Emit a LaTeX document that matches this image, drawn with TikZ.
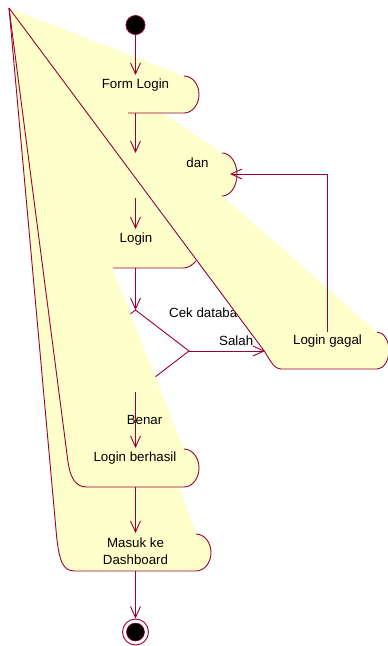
\documentclass[tikz,border=0pt]{standalone}
\usepackage{fontspec}
\setmainfont{Liberation Sans}
\usetikzlibrary{arrows.meta}
\definecolor{rosered}{RGB}{153,0,51}
\definecolor{roseyellow}{RGB}{255,255,204}

\begin{document}
\begin{tikzpicture}[x=1pt,y=-1pt,
  actfill/.style={fill=roseyellow,draw=none},
  outline/.style={draw=rosered,line width=0.9pt},
  flow/.style={draw=rosered,line width=0.9pt,-{Straight Barb[length=11pt,width=10pt]}},
  lbl/.style={font=\fontsize{13.3}{16}\selectfont,inner sep=0pt,anchor=base},
  lblw/.style={lbl,anchor=base west},
  startdot/.style={circle,fill=black,draw=rosered,line width=0.8pt,minimum size=19pt,inner sep=0pt},
  enddot/.style={circle,draw=rosered,line width=0.9pt,minimum size=26pt,inner sep=0pt},
]
\useasboundingbox (0,0) rectangle (388,646);
\coordinate (apex) at (9,8);

% guard text, partly hidden under the "Login gagal" activity
\node[lblw] (cek) at (169,317.5) {Cek database};

% activity fills (their upper left corners all collapse into the apex)
\path[actfill] (apex) -- (184,76) .. controls (192.3,76) and (199,84.3) .. (199,94.5)
  .. controls (199,104.7) and (192.3,113) .. (184,113) -- (128,113) -- (120,125) -- cycle;
\path[actfill] (apex) -- (222,153) .. controls (230.3,153) and (237,162.6) .. (237,174.5)
  .. controls (237,186.4) and (230.3,196) .. (222,196) -- (200,200) -- cycle;
\path[actfill] (apex) -- (196,261) .. controls (192,265.5) and (188,268) .. (183,268)
  -- (100,268) -- cycle;
\path[actfill] (apex) -- (377,332) .. controls (383.6,332) and (389,340.3) .. (389,350.5)
  .. controls (389,360.7) and (383.6,369) .. (377,369) -- (281,369)
  .. controls (273,369) and (268.5,356.7) .. (263.5,350) -- cycle;
\path[actfill] (apex) -- (196,534) .. controls (204.3,534) and (211,542.3) .. (211,552.5)
  .. controls (211,562.7) and (204.3,571) .. (196,571) -- (75,571)
  .. controls (63,571) and (59,562) .. (56.3,533) -- cycle;

% decision
\draw[outline] (135.5,310) -- (189,351) -- (135.5,392) -- (82,351) -- cycle;

\path[actfill] (apex) -- (184,449) .. controls (192.3,449) and (199,457.5) .. (199,468)
  .. controls (199,478.5) and (192.3,487) .. (184,487) -- (87,487)
  .. controls (75,487) and (69.5,478) .. (67.1,455) -- cycle;

% visible outlines
\draw[outline] (184,76) .. controls (192.3,76) and (199,84.3) .. (199,94.5)
  .. controls (199,104.7) and (192.3,113) .. (184,113) -- (128,113);
\draw[outline] (222,153) .. controls (230.3,153) and (237,162.6) .. (237,174.5)
  .. controls (237,186.4) and (230.3,196) .. (222,196);
\draw[outline] (113,268) -- (183,268) .. controls (188,268) and (192,265.5) .. (196,261);
\draw[outline] (apex) -- (263.5,350) .. controls (268.5,356.7) and (273,369) .. (281,369)
  -- (377,369) .. controls (383.6,369) and (389,360.7) .. (389,350.5)
  .. controls (389,340.3) and (383.6,332) .. (377,332);
\draw[outline] (apex) -- (67.1,455) .. controls (69.5,478) and (75,487) .. (87,487)
  -- (184,487) .. controls (192.3,487) and (199,478.5) .. (199,468)
  .. controls (199,457.5) and (192.3,449) .. (184,449);
\draw[outline] (apex) -- (56.3,533) .. controls (59,562) and (63,571) .. (75,571)
  -- (196,571) .. controls (204.3,571) and (211,562.7) .. (211,552.5)
  .. controls (211,542.3) and (204.3,534) .. (196,534);

% start and end states
\node[startdot] (init) at (135.5,25) {};
\node[enddot] (done) at (135.5,632) {};
\filldraw[fill=black,draw=rosered,line width=0.5pt] (done.center) circle (9);

% connector ends
\coordinate (formIn) at (135.5,75);
\coordinate (formOut) at (135.5,113);
\coordinate (danIn) at (135.5,153);
\coordinate (danOut) at (135.5,198);
\coordinate (loginIn) at (135.5,229);
\coordinate (loginOut) at (135.5,268);
\coordinate (decTop) at (135.5,310);
\coordinate (decRight) at (189,351);
\coordinate (decBottom) at (135.5,392);
\coordinate (failIn) at (265,351);
\coordinate (failOut) at (327.5,332);
\coordinate (danRight) at (230,174);
\coordinate (okIn) at (135.5,448);
\coordinate (okOut) at (135.5,487);
\coordinate (dashIn) at (135.5,533);
\coordinate (dashOut) at (135.5,571);

\draw[flow] (init) -- (formIn);
\draw[flow] (formOut) -- (danIn);
\draw[flow] (danOut) -- (loginIn);
\draw[flow] (loginOut) -- (decTop);
\draw[flow] (decRight) -- (failIn);
\draw[flow] (failOut) |- (danRight);
\draw[flow] (decBottom) -- (okIn);
\draw[flow] (okOut) -- (dashIn);
\draw[flow] (dashOut) -- (done);

% labels
\node[lbl] (form) at (135.5,88.5) {Form Login};
\node[lbl] (dan) at (197.5,167) {dan};
\node[lbl] (login) at (136,242.7) {Login};
\node[lblw] (salah) at (219,345) {Salah};
\node[lbl] (gagal) at (327.5,344.5) {Login gagal};
\node[lbl] (benar) at (144.5,424.5) {Benar};
\node[lbl] (berhasil) at (135,461.7) {Login berhasil};
\node[lbl] (masuk) at (135.5,547.3) {Masuk ke};
\node[lbl] (dash) at (135.5,564.3) {Dashboard};
\end{tikzpicture}
\end{document}
